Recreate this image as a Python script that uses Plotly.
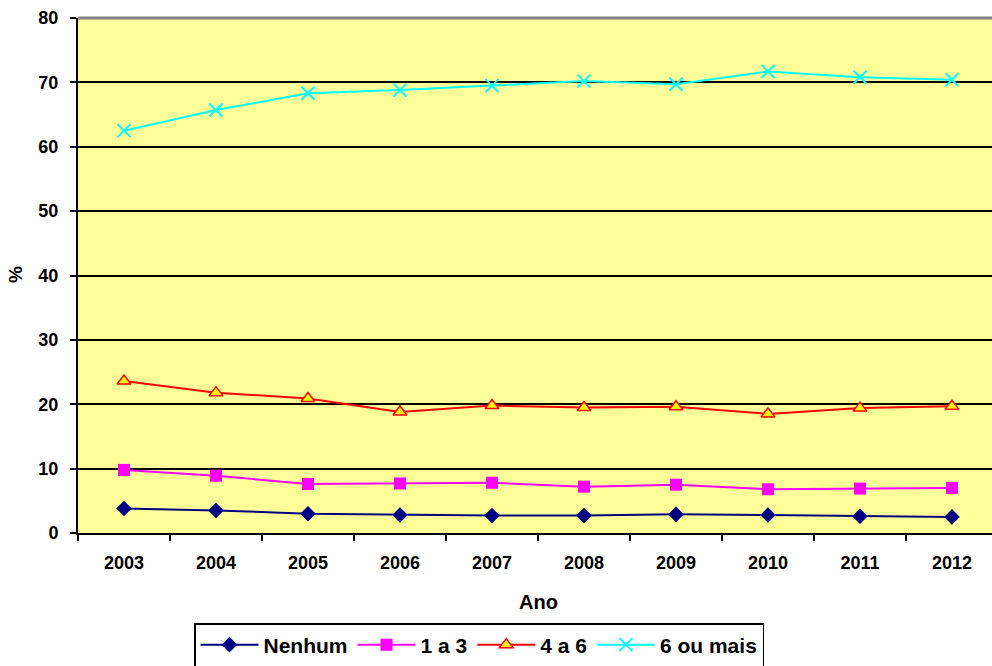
import plotly.graph_objects as go

years = ["2003", "2004", "2005", "2006", "2007", "2008", "2009", "2010", "2011", "2012"]
nenhum = [3.8, 3.5, 3.0, 2.8, 2.7, 2.7, 2.9, 2.8, 2.6, 2.5]
um_a_tres = [9.8, 8.9, 7.6, 7.7, 7.8, 7.2, 7.5, 6.8, 6.9, 7.0]
quatro_a_seis = [23.6, 21.8, 20.9, 18.8, 19.8, 19.5, 19.6, 18.5, 19.4, 19.7]
seis_ou_mais = [62.5, 65.7, 68.3, 68.8, 69.5, 70.2, 69.7, 71.7, 70.8, 70.4]
y_ticks = [0, 10, 20, 30, 40, 50, 60, 70, 80]

FONT = "Arial, Liberation Sans, sans-serif"

fig = go.Figure()
fig.add_trace(go.Scatter(x=years, y=nenhum, name="Nenhum", mode="lines+markers",
                         line=dict(color="#000080", width=2),
                         marker=dict(symbol="diamond", size=12, color="#000080")))
fig.add_trace(go.Scatter(x=years, y=um_a_tres, name="1 a 3", mode="lines+markers",
                         line=dict(color="#FF00FF", width=2),
                         marker=dict(symbol="square", size=12, color="#FF00FF")))
fig.add_trace(go.Scatter(x=years, y=quatro_a_seis, name="4 a 6", mode="lines+markers",
                         line=dict(color="#FF0000", width=2),
                         marker=dict(symbol="triangle-up", size=12, color="#FFFF00",
                                     line=dict(color="#FF0000", width=1.5))))
fig.add_trace(go.Scatter(x=years, y=seis_ou_mais, name="6 ou mais", mode="lines+markers",
                         line=dict(color="#00FFFF", width=2),
                         marker=dict(symbol="x-thin-open", size=13, color="#00FFFF",
                                     line=dict(color="#00FFFF", width=2))))

fig.update_layout(
    width=992, height=666,
    margin=dict(l=78, r=0, t=18, b=133, autoexpand=False),
    paper_bgcolor="white",
    plot_bgcolor="#FFFF99",
    font=dict(family=FONT, size=18, color="black"),
    showlegend=True,
    legend=dict(orientation="h", x=(479 - 78) / 914, xanchor="center",
                y=(533 - 645) / 515, yanchor="middle",
                bgcolor="white", bordercolor="black", borderwidth=1.5,
                font=dict(family=FONT, size=21, color="black", weight="bold"),
                itemwidth=58, tracegroupgap=0),
    xaxis=dict(type="category", range=[-0.5, 9.435], tickson="boundaries",
               ticks="outside", ticklen=6, tickcolor="black", tickwidth=1.5,
               showline=True, linecolor="black", linewidth=2, showgrid=False,
               automargin=False, ticklabelstandoff=12,
               tickfont=dict(family=FONT, size=18, weight="bold")),
    yaxis=dict(range=[0, 80], tickvals=y_ticks, ticks="outside", ticklen=6,
               tickcolor="black", tickwidth=1.5, showline=True, linecolor="black", linewidth=2,
               showgrid=True, gridcolor="black", gridwidth=1.5, zeroline=False,
               automargin=False, ticklabelstandoff=8,
               tickfont=dict(family=FONT, size=18, weight="bold")),
    annotations=[
        dict(text="Ano", xref="paper", x=(538 - 78) / 914, yref="paper", y=(533 - 602) / 515,
             xanchor="center", yanchor="middle",
             showarrow=False, font=dict(family=FONT, size=20, weight="bold")),
        dict(text="%", xref="paper", x=(15 - 78) / 914, yref="paper", y=(533 - 275) / 515,
             xanchor="center", yanchor="middle",
             showarrow=False, textangle=-90, font=dict(family=FONT, size=19, weight="bold")),
    ],
    shapes=[dict(type="line", xref="paper", yref="paper", x0=0, x1=1, y0=1, y1=1,
                 line=dict(color="#808080", width=3))],
)

fig.write_html("out.html", config={"displayModeBar": False},
               post_script="document.body.style.margin='0';document.body.style.overflow='hidden';")
